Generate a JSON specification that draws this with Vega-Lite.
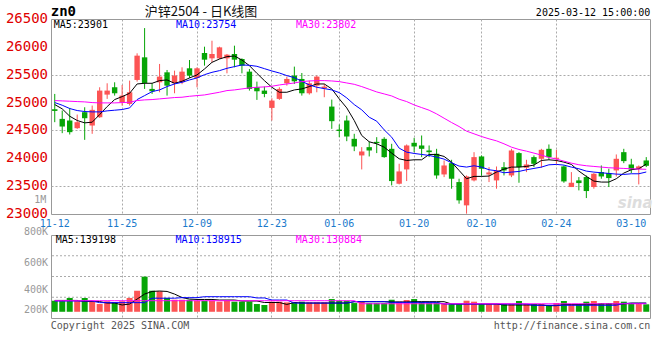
{
  "$schema": "https://vega.github.io/schema/vega-lite/v6.json",
  "padding": {"left": 5, "top": 4, "right": 5, "bottom": 5},
  "background": "white",
  "bounds": "flush",
  "spacing": 21,
  "config": {
    "view": {"stroke": "#999999", "strokeWidth": 1},
    "font": "DejaVu Sans Mono",
    "axis": {"ticks": false, "domain": false, "gridColor": "#aaaaaa", "gridDash": [2, 2], "gridWidth": 1, "labelFont": "DejaVu Sans Mono", "labelOverlap": false}
  },
  "datasets": {
    "k": [
      {"d":"2024-11-12","o":24880,"h":25155,"l":24648,"c":24850,"m5":24964,"m10":25000,"m30":25036,"v":325000,"vm5":327000,"vm10":323000,"vm30":325000},
      {"d":"2024-11-13","o":24707,"h":24857,"l":24451,"c":24570,"m5":24887,"m10":24952,"m30":25030,"v":325000,"vm5":327000,"vm10":323000,"vm30":325000},
      {"d":"2024-11-14","o":24678,"h":24904,"l":24427,"c":24469,"m5":24755,"m10":24893,"m30":25024,"v":345000,"vm5":327000,"vm10":323000,"vm30":325000},
      {"d":"2024-11-15","o":24540,"h":24785,"l":24528,"c":24648,"m5":24678,"m10":24857,"m30":25018,"v":325000,"vm5":327000,"vm10":323000,"vm30":325000},
      {"d":"2024-11-18","o":24827,"h":24916,"l":24331,"c":24719,"m5":24636,"m10":24839,"m30":25012,"v":345000,"vm5":319000,"vm10":323000,"vm30":325000},
      {"d":"2024-11-19","o":24588,"h":24946,"l":24439,"c":24869,"m5":24648,"m10":24833,"m30":25000,"v":325000,"vm5":319000,"vm10":323000,"vm30":325000},
      {"d":"2024-11-20","o":24737,"h":25275,"l":24725,"c":25215,"m5":24785,"m10":24833,"m30":24994,"v":301000,"vm5":319000,"vm10":311000,"vm30":325000},
      {"d":"2024-11-21","o":25143,"h":25346,"l":25066,"c":25215,"m5":24928,"m10":24851,"m30":24994,"v":321000,"vm5":308000,"vm10":311000,"vm30":325000},
      {"d":"2024-11-22","o":25275,"h":25364,"l":25125,"c":25167,"m5":25054,"m10":24863,"m30":24994,"v":313000,"vm5":308000,"vm10":311000,"vm30":325000},
      {"d":"2024-11-25","o":25006,"h":25316,"l":24946,"c":25125,"m5":25107,"m10":24875,"m30":25000,"v":321000,"vm5":294000,"vm10":311000,"vm30":325000},
      {"d":"2024-11-26","o":24976,"h":25394,"l":24946,"c":25185,"m5":25167,"m10":24904,"m30":25006,"v":345000,"vm5":301000,"vm10":311000,"vm30":325000},
      {"d":"2024-11-27","o":25406,"h":25884,"l":25376,"c":25842,"m5":25334,"m10":25054,"m30":25036,"v":397000,"vm5":337000,"vm10":311000,"vm30":325000},
      {"d":"2024-11-28","o":25812,"h":26337,"l":25245,"c":25352,"m5":25346,"m10":25125,"m30":25048,"v":499000,"vm5":373000,"vm10":311000,"vm30":325000},
      {"d":"2024-11-29","o":25245,"h":25346,"l":25155,"c":25203,"m5":25346,"m10":25197,"m30":25054,"v":397000,"vm5":392000,"vm10":343000,"vm30":325000},
      {"d":"2024-12-02","o":25364,"h":25693,"l":25185,"c":25466,"m5":25394,"m10":25227,"m30":25066,"v":393000,"vm5":395000,"vm10":343000,"vm30":325000},
      {"d":"2024-12-03","o":25543,"h":25585,"l":25125,"c":25304,"m5":25406,"m10":25287,"m30":25078,"v":345000,"vm5":392000,"vm10":343000,"vm30":325000},
      {"d":"2024-12-04","o":25346,"h":25573,"l":25167,"c":25484,"m5":25346,"m10":25334,"m30":25090,"v":332000,"vm5":373000,"vm10":343000,"vm30":325000},
      {"d":"2024-12-05","o":25364,"h":25633,"l":25330,"c":25555,"m5":25382,"m10":25364,"m30":25096,"v":332000,"vm5":348000,"vm10":347000,"vm30":325000},
      {"d":"2024-12-06","o":25615,"h":25764,"l":25442,"c":25484,"m5":25442,"m10":25406,"m30":25113,"v":332000,"vm5":337000,"vm10":347000,"vm30":325000},
      {"d":"2024-12-09","o":25442,"h":25633,"l":25275,"c":25615,"m5":25496,"m10":25442,"m30":25125,"v":325000,"vm5":334000,"vm10":347000,"vm30":325000},
      {"d":"2024-12-10","o":25890,"h":26003,"l":25663,"c":25770,"m5":25603,"m10":25501,"m30":25137,"v":325000,"vm5":334000,"vm10":354000,"vm30":325000},
      {"d":"2024-12-11","o":25794,"h":26110,"l":25722,"c":25872,"m5":25722,"m10":25543,"m30":25161,"v":325000,"vm5":334000,"vm10":354000,"vm30":325000},
      {"d":"2024-12-12","o":25794,"h":26003,"l":25782,"c":25991,"m5":25782,"m10":25573,"m30":25185,"v":318000,"vm5":330000,"vm10":354000,"vm30":325000},
      {"d":"2024-12-13","o":25794,"h":25872,"l":25525,"c":25860,"m5":25824,"m10":25615,"m30":25215,"v":325000,"vm5":330000,"vm10":354000,"vm30":325000},
      {"d":"2024-12-16","o":25872,"h":26021,"l":25633,"c":25770,"m5":25836,"m10":25645,"m30":25227,"v":318000,"vm5":330000,"vm10":354000,"vm30":325000},
      {"d":"2024-12-17","o":25782,"h":25794,"l":25525,"c":25663,"m5":25764,"m10":25675,"m30":25245,"v":318000,"vm5":323000,"vm10":354000,"vm30":325000},
      {"d":"2024-12-18","o":25555,"h":25603,"l":25215,"c":25245,"m5":25663,"m10":25669,"m30":25263,"v":318000,"vm5":323000,"vm10":354000,"vm30":325000},
      {"d":"2024-12-19","o":25275,"h":25376,"l":25048,"c":25203,"m5":25525,"m10":25651,"m30":25275,"v":301000,"vm5":323000,"vm10":345000,"vm30":325000},
      {"d":"2024-12-20","o":25215,"h":25287,"l":25096,"c":25155,"m5":25394,"m10":25609,"m30":25281,"v":294000,"vm5":312000,"vm10":345000,"vm30":325000},
      {"d":"2024-12-23","o":24904,"h":25078,"l":24678,"c":25036,"m5":25275,"m10":25567,"m30":25293,"v":318000,"vm5":312000,"vm10":330000,"vm30":325000},
      {"d":"2024-12-24","o":25066,"h":25275,"l":25048,"c":25245,"m5":25185,"m10":25531,"m30":25316,"v":318000,"vm5":312000,"vm10":330000,"vm30":325000},
      {"d":"2024-12-25","o":25346,"h":25466,"l":25304,"c":25424,"m5":25185,"m10":25484,"m30":25334,"v":313000,"vm5":298000,"vm10":330000,"vm30":325000},
      {"d":"2024-12-26","o":25484,"h":25645,"l":25334,"c":25382,"m5":25227,"m10":25448,"m30":25352,"v":313000,"vm5":312000,"vm10":308000,"vm30":325000},
      {"d":"2024-12-27","o":25424,"h":25531,"l":25125,"c":25167,"m5":25245,"m10":25382,"m30":25376,"v":318000,"vm5":308000,"vm10":308000,"vm30":325000},
      {"d":"2024-12-30","o":25167,"h":25394,"l":25143,"c":25346,"m5":25287,"m10":25316,"m30":25388,"v":313000,"vm5":308000,"vm10":308000,"vm30":325000},
      {"d":"2024-12-31","o":25304,"h":25484,"l":25185,"c":25466,"m5":25334,"m10":25275,"m30":25394,"v":313000,"vm5":308000,"vm10":308000,"vm30":325000},
      {"d":"2025-01-02","o":25257,"h":25334,"l":25096,"c":25287,"m5":25334,"m10":25251,"m30":25394,"v":313000,"vm5":308000,"vm10":308000,"vm30":325000},
      {"d":"2025-01-03","o":24928,"h":25054,"l":24528,"c":24666,"m5":25245,"m10":25227,"m30":25388,"v":337000,"vm5":308000,"vm10":308000,"vm30":325000},
      {"d":"2025-01-06","o":24515,"h":24606,"l":24379,"c":24490,"m5":25066,"m10":25179,"m30":25376,"v":325000,"vm5":308000,"vm10":308000,"vm30":325000},
      {"d":"2025-01-07","o":24678,"h":24767,"l":24307,"c":24391,"m5":24904,"m10":25084,"m30":25352,"v":325000,"vm5":308000,"vm10":308000,"vm30":325000},
      {"d":"2025-01-08","o":24349,"h":24439,"l":24128,"c":24212,"m5":24678,"m10":24964,"m30":25328,"v":308000,"vm5":318000,"vm10":318000,"vm30":325000},
      {"d":"2025-01-09","o":24051,"h":24200,"l":23800,"c":24122,"m5":24409,"m10":24869,"m30":25287,"v":318000,"vm5":318000,"vm10":318000,"vm30":303000},
      {"d":"2025-01-10","o":24200,"h":24301,"l":24033,"c":24140,"m5":24296,"m10":24737,"m30":25239,"v":308000,"vm5":318000,"vm10":318000,"vm30":303000},
      {"d":"2025-01-13","o":24295,"h":24379,"l":24093,"c":24272,"m5":24260,"m10":24666,"m30":25191,"v":308000,"vm5":318000,"vm10":318000,"vm30":303000},
      {"d":"2025-01-14","o":24349,"h":24379,"l":24009,"c":24021,"m5":24200,"m10":24510,"m30":25155,"v":308000,"vm5":318000,"vm10":318000,"vm30":303000},
      {"d":"2025-01-15","o":24170,"h":24260,"l":23513,"c":23591,"m5":24093,"m10":24379,"m30":25119,"v":332000,"vm5":316000,"vm10":313000,"vm30":303000},
      {"d":"2025-01-16","o":23543,"h":23902,"l":23531,"c":23764,"m5":23991,"m10":24182,"m30":25060,"v":318000,"vm5":316000,"vm10":313000,"vm30":303000},
      {"d":"2025-01-17","o":23800,"h":24248,"l":23591,"c":24230,"m5":23961,"m10":24110,"m30":25018,"v":330000,"vm5":316000,"vm10":313000,"vm30":303000},
      {"d":"2025-01-20","o":24278,"h":24367,"l":24110,"c":24212,"m5":23973,"m10":24087,"m30":24958,"v":337000,"vm5":318000,"vm10":313000,"vm30":303000},
      {"d":"2025-01-21","o":24230,"h":24409,"l":24021,"c":24170,"m5":23973,"m10":24069,"m30":24910,"v":318000,"vm5":318000,"vm10":313000,"vm30":303000},
      {"d":"2025-01-22","o":24140,"h":24230,"l":24021,"c":24110,"m5":24069,"m10":24051,"m30":24863,"v":313000,"vm5":318000,"vm10":313000,"vm30":303000},
      {"d":"2025-01-23","o":24081,"h":24170,"l":23633,"c":23692,"m5":24069,"m10":24021,"m30":24797,"v":313000,"vm5":318000,"vm10":313000,"vm30":303000},
      {"d":"2025-01-24","o":23710,"h":23961,"l":23662,"c":23871,"m5":24033,"m10":23985,"m30":24719,"v":308000,"vm5":318000,"vm10":301000,"vm30":303000},
      {"d":"2025-01-27","o":23913,"h":23973,"l":23454,"c":23633,"m5":23931,"m10":23919,"m30":24642,"v":301000,"vm5":301000,"vm10":301000,"vm30":303000},
      {"d":"2025-02-05","o":23573,"h":23633,"l":23185,"c":23245,"m5":23782,"m10":23860,"m30":24570,"v":301000,"vm5":301000,"vm10":301000,"vm30":303000},
      {"d":"2025-02-06","o":23155,"h":23692,"l":23006,"c":23675,"m5":23633,"m10":23842,"m30":24487,"v":325000,"vm5":301000,"vm10":301000,"vm30":303000},
      {"d":"2025-02-07","o":23603,"h":24110,"l":23585,"c":24021,"m5":23675,"m10":23866,"m30":24439,"v":318000,"vm5":301000,"vm10":301000,"vm30":303000},
      {"d":"2025-02-10","o":24033,"h":24051,"l":23686,"c":23812,"m5":23675,"m10":23842,"m30":24391,"v":301000,"vm5":301000,"vm10":301000,"vm30":303000},
      {"d":"2025-02-11","o":23710,"h":23842,"l":23573,"c":23746,"m5":23681,"m10":23794,"m30":24349,"v":301000,"vm5":301000,"vm10":301000,"vm30":303000},
      {"d":"2025-02-12","o":23603,"h":23853,"l":23454,"c":23782,"m5":23752,"m10":23776,"m30":24313,"v":301000,"vm5":301000,"vm10":301000,"vm30":303000},
      {"d":"2025-02-13","o":23841,"h":23931,"l":23692,"c":23782,"m5":23806,"m10":23740,"m30":24260,"v":301000,"vm5":294000,"vm10":301000,"vm30":303000},
      {"d":"2025-02-14","o":23692,"h":24170,"l":23662,"c":24140,"m5":23842,"m10":23752,"m30":24200,"v":301000,"vm5":294000,"vm10":301000,"vm30":303000},
      {"d":"2025-02-17","o":24093,"h":24110,"l":23561,"c":23842,"m5":23842,"m10":23764,"m30":24158,"v":323000,"vm5":294000,"vm10":301000,"vm30":303000},
      {"d":"2025-02-18","o":23830,"h":23973,"l":23752,"c":23889,"m5":23854,"m10":23794,"m30":24128,"v":301000,"vm5":294000,"vm10":301000,"vm30":303000},
      {"d":"2025-02-19","o":24021,"h":24051,"l":23842,"c":23901,"m5":23878,"m10":23818,"m30":24093,"v":301000,"vm5":294000,"vm10":292000,"vm30":303000},
      {"d":"2025-02-20","o":23991,"h":24170,"l":23830,"c":24152,"m5":23961,"m10":23842,"m30":24057,"v":301000,"vm5":294000,"vm10":292000,"vm30":303000},
      {"d":"2025-02-21","o":24170,"h":24248,"l":23973,"c":24021,"m5":23973,"m10":23883,"m30":24015,"v":294000,"vm5":289000,"vm10":292000,"vm30":303000},
      {"d":"2025-02-24","o":23990,"h":24152,"l":23901,"c":24010,"m5":23961,"m10":23890,"m30":23985,"v":308000,"vm5":289000,"vm10":292000,"vm30":303000},
      {"d":"2025-02-25","o":23854,"h":23871,"l":23561,"c":23585,"m5":23931,"m10":23878,"m30":23949,"v":323000,"vm5":298000,"vm10":292000,"vm30":303000},
      {"d":"2025-02-26","o":23484,"h":23752,"l":23484,"c":23561,"m5":23890,"m10":23842,"m30":23913,"v":301000,"vm5":298000,"vm10":292000,"vm30":303000},
      {"d":"2025-02-27","o":23603,"h":23663,"l":23424,"c":23555,"m5":23770,"m10":23812,"m30":23884,"v":301000,"vm5":298000,"vm10":292000,"vm30":303000},
      {"d":"2025-02-28","o":23663,"h":23692,"l":23286,"c":23412,"m5":23675,"m10":23770,"m30":23866,"v":318000,"vm5":298000,"vm10":292000,"vm30":303000},
      {"d":"2025-03-03","o":23484,"h":23734,"l":23454,"c":23722,"m5":23591,"m10":23752,"m30":23854,"v":323000,"vm5":298000,"vm10":292000,"vm30":303000},
      {"d":"2025-03-04","o":23752,"h":23871,"l":23633,"c":23674,"m5":23573,"m10":23740,"m30":23842,"v":308000,"vm5":301000,"vm10":292000,"vm30":303000},
      {"d":"2025-03-05","o":23734,"h":23812,"l":23484,"c":23645,"m5":23573,"m10":23728,"m30":23830,"v":308000,"vm5":301000,"vm10":292000,"vm30":303000},
      {"d":"2025-03-06","o":23782,"h":24069,"l":23674,"c":23991,"m5":23633,"m10":23716,"m30":23824,"v":323000,"vm5":301000,"vm10":292000,"vm30":303000},
      {"d":"2025-03-07","o":24110,"h":24170,"l":23913,"c":23949,"m5":23734,"m10":23710,"m30":23818,"v":318000,"vm5":301000,"vm10":306000,"vm30":303000},
      {"d":"2025-03-10","o":23889,"h":23991,"l":23734,"c":23794,"m5":23794,"m10":23722,"m30":23812,"v":308000,"vm5":308000,"vm10":306000,"vm30":303000},
      {"d":"2025-03-11","o":23812,"h":23871,"l":23531,"c":23854,"m5":23812,"m10":23722,"m30":23806,"v":308000,"vm5":308000,"vm10":306000,"vm30":303000},
      {"d":"2025-03-12","o":23961,"h":24021,"l":23842,"c":23865,"m5":23895,"m10":23754,"m30":23802,"v":299000,"vm5":308000,"vm10":306000,"vm30":303000}
    ],
    "ptick": [{"p": 23000}, {"p": 23500}, {"p": 24000}, {"p": 24500}, {"p": 25000}, {"p": 25500}, {"p": 26000}, {"p": 26500}],
    "vgrid": [{"g": 350000}, {"g": 500000}, {"g": 650000}]
  },
  "vconcat": [
    {
      "width": 599,
      "height": 195,
      "data": {"name": "k"},
      "encoding": {
        "x": {
          "field": "d", "type": "ordinal", "title": null,
          "scale": {"type": "band", "paddingInner": 0, "paddingOuter": 0},
          "axis": {
            "values": ["2024-11-12","2024-11-25","2024-12-09","2024-12-23","2025-01-06","2025-01-20","2025-02-10","2025-02-24","2025-03-10"],
            "labelExpr": "substring(datum.value, 5)",
            "labelColor": "#1a7acc", "labelFontSize": 10, "labelPadding": 4, "labelAngle": 0, "labelOverlap": false,
            "grid": true,
            "gridOpacity": {"condition": {"test": "datum.value == '2025-03-10' || datum.value == '2024-11-12'", "value": 0}, "value": 1}
          }
        }
      },
      "layer": [
        {
          "mark": {"type": "rule", "strokeWidth": 1},
          "encoding": {
            "y": {
              "field": "l", "type": "quantitative", "title": null,
              "scale": {"domain": [23000, 26500], "zero": false, "nice": false},
              "axis": {
                "values": [23500, 24000, 24500, 25000, 25500, 26000],
                "labels": false,
                "grid": true
              }
            },
            "y2": {"field": "h"},
            "color": {"condition": {"test": "datum.c >= datum.o", "value": "#fc5454"}, "value": "#06a506"}
          }
        },
        {
          "mark": {"type": "bar", "width": {"band": 0.72}},
          "encoding": {
            "y": {"field": "o", "type": "quantitative"},
            "y2": {"field": "c"},
            "color": {"condition": {"test": "datum.c >= datum.o", "value": "#fc5454"}, "value": "#06a506"}
          }
        },
        {"mark": {"type": "line", "color": "#000000", "strokeWidth": 1}, "encoding": {"y": {"field": "m5", "type": "quantitative"}}},
        {"mark": {"type": "line", "color": "#0000ff", "strokeWidth": 1}, "encoding": {"y": {"field": "m10", "type": "quantitative"}}},
        {"mark": {"type": "line", "color": "#ff00ff", "strokeWidth": 1}, "encoding": {"y": {"field": "m30", "type": "quantitative"}}},
        {
          "data": {"name": "ptick"},
          "mark": {"type": "text", "font": "DejaVu Sans Mono", "fontSize": 14, "align": "right", "baseline": "middle", "dx": -6.7, "color": "#e00000"},
          "encoding": {"x": {"datum": "2024-11-12", "type": "ordinal"}, "y": {"field": "p", "type": "quantitative"}, "text": {"field": "p", "type": "quantitative", "format": "d"}}
        },
        {
          "data": {"values": [{}]},
          "mark": {"type": "text", "text": "1M", "font": "DejaVu Sans Mono", "fontSize": 10, "align": "right", "baseline": "middle", "dx": -8.5, "color": "#999999"},
          "encoding": {"x": {"datum": "2024-11-12", "type": "ordinal"}, "y": {"datum": 23250, "type": "quantitative"}}
        },
        {
          "data": {"values": [{}]},
          "mark": {"type": "text", "text": "zn0", "font": "DejaVu Sans Mono", "fontWeight": "bold", "fontSize": 14, "align": "left", "baseline": "middle", "dx": -4, "dy": -7, "color": "#000000"},
          "encoding": {"x": {"datum": "2024-11-12", "type": "ordinal"}, "y": {"datum": 26500, "type": "quantitative"}}
        },
        {
          "data": {"values": [{}]},
          "mark": {"type": "text", "text": "沪锌2504 - 日K线图", "font": "Noto Sans CJK SC", "fontSize": 13, "align": "center", "baseline": "middle", "dx": 4, "dy": -7, "color": "#111111"},
          "encoding": {"x": {"datum": "2024-12-09", "type": "ordinal"}, "y": {"datum": 26500, "type": "quantitative"}}
        },
        {
          "data": {"values": [{}]},
          "mark": {"type": "text", "text": "2025-03-12 15:00:00", "font": "DejaVu Sans Mono", "fontSize": 10, "align": "right", "baseline": "middle", "dx": 4, "dy": -6, "color": "#000000"},
          "encoding": {"x": {"datum": "2025-03-12", "type": "ordinal"}, "y": {"datum": 26500, "type": "quantitative"}}
        },
        {
          "data": {"values": [{}]},
          "mark": {"type": "text", "text": "MA5:23901", "font": "DejaVu Sans Mono", "fontSize": 10, "align": "left", "baseline": "middle", "dx": -1, "dy": 6, "color": "#000000"},
          "encoding": {"x": {"datum": "2024-11-12", "type": "ordinal"}, "y": {"datum": 26500, "type": "quantitative"}}
        },
        {
          "data": {"values": [{}]},
          "mark": {"type": "text", "text": "MA10:23754", "font": "DejaVu Sans Mono", "fontSize": 10, "align": "left", "baseline": "middle", "dx": 1.5, "dy": 6, "color": "#0000ff"},
          "encoding": {"x": {"datum": "2024-12-04", "type": "ordinal"}, "y": {"datum": 26500, "type": "quantitative"}}
        },
        {
          "data": {"values": [{}]},
          "mark": {"type": "text", "text": "MA30:23802", "font": "DejaVu Sans Mono", "fontSize": 10, "align": "left", "baseline": "middle", "dx": 1.7, "dy": 6, "color": "#ff00ff"},
          "encoding": {"x": {"datum": "2024-12-26", "type": "ordinal"}, "y": {"datum": 26500, "type": "quantitative"}}
        },
        {
          "data": {"values": [{}]},
          "mark": {"type": "text", "text": "sina", "font": "DejaVu Sans", "fontWeight": "bold", "fontStyle": "italic", "fontSize": 15, "align": "left", "baseline": "middle", "dx": -6, "color": "#dddddd"},
          "encoding": {"x": {"datum": "2025-03-07", "type": "ordinal"}, "y": {"datum": 23200, "type": "quantitative"}}
        }
      ]
    },
    {
      "width": 599,
      "height": 83,
      "data": {"name": "k"},
      "encoding": {
        "x": {
          "field": "d", "type": "ordinal", "title": null,
          "scale": {"type": "band", "paddingInner": 0, "paddingOuter": 0},
          "axis": {
            "values": ["2024-11-12","2024-11-25","2024-12-09","2024-12-23","2025-01-06","2025-01-20","2025-02-10","2025-02-24","2025-03-10"],
            "labels": false,
            "grid": true,
            "gridOpacity": {"condition": {"test": "datum.value == '2025-03-10' || datum.value == '2024-11-12'", "value": 0}, "value": 1}
          }
        }
      },
      "layer": [
        {
          "data": {"name": "vgrid"},
          "mark": {"type": "rule", "color": "#aaaaaa", "strokeDash": [2, 2], "strokeWidth": 1},
          "encoding": {"x": null, "y": {"field": "g", "type": "quantitative"}}
        },
        {
          "mark": {"type": "bar", "width": {"band": 0.8}},
          "encoding": {
            "y": {
              "field": "v", "type": "quantitative", "title": null,
              "scale": {"domain": [200000, 800000], "zero": false, "nice": false},
              "axis": {"labels": false, "grid": false}
            },
            "y2": {"datum": 245000},
            "color": {"condition": {"test": "datum.c >= datum.o", "value": "#fc5454"}, "value": "#06a506"}
          }
        },
        {"mark": {"type": "line", "color": "#000000", "strokeWidth": 1}, "encoding": {"y": {"field": "vm5", "type": "quantitative"}}},
        {"mark": {"type": "line", "color": "#0000ff", "strokeWidth": 1}, "encoding": {"y": {"field": "vm10", "type": "quantitative"}}},
        {"mark": {"type": "line", "color": "#ff00ff", "strokeWidth": 1}, "encoding": {"y": {"field": "vm30", "type": "quantitative"}}},
        {
          "data": {"values": [{}]},
          "mark": {"type": "text", "text": "800K", "font": "DejaVu Sans Mono", "fontSize": 10, "align": "right", "baseline": "middle", "dx": -6.7, "dy": -3, "color": "#999999"},
          "encoding": {"x": {"datum": "2024-11-12", "type": "ordinal"}, "y": {"datum": 800000, "type": "quantitative"}}
        },
        {
          "data": {"values": [{}]},
          "mark": {"type": "text", "text": "600K", "font": "DejaVu Sans Mono", "fontSize": 10, "align": "right", "baseline": "middle", "dx": -6.7, "color": "#999999"},
          "encoding": {"x": {"datum": "2024-11-12", "type": "ordinal"}, "y": {"datum": 600000, "type": "quantitative"}}
        },
        {
          "data": {"values": [{}]},
          "mark": {"type": "text", "text": "400K", "font": "DejaVu Sans Mono", "fontSize": 10, "align": "right", "baseline": "middle", "dx": -6.7, "color": "#999999"},
          "encoding": {"x": {"datum": "2024-11-12", "type": "ordinal"}, "y": {"datum": 400000, "type": "quantitative"}}
        },
        {
          "data": {"values": [{}]},
          "mark": {"type": "text", "text": "200K", "font": "DejaVu Sans Mono", "fontSize": 10, "align": "right", "baseline": "middle", "dx": -6.7, "dy": -8, "color": "#999999"},
          "encoding": {"x": {"datum": "2024-11-12", "type": "ordinal"}, "y": {"datum": 200000, "type": "quantitative"}}
        },
        {
          "data": {"values": [{}]},
          "mark": {"type": "text", "text": "MA5:139198", "font": "DejaVu Sans Mono", "fontSize": 10, "align": "left", "baseline": "middle", "dx": 1, "dy": 4.5, "color": "#000000"},
          "encoding": {"x": {"datum": "2024-11-12", "type": "ordinal"}, "y": {"datum": 800000, "type": "quantitative"}}
        },
        {
          "data": {"values": [{}]},
          "mark": {"type": "text", "text": "MA10:138915", "font": "DejaVu Sans Mono", "fontSize": 10, "align": "left", "baseline": "middle", "dx": 1, "dy": 4.5, "color": "#0000ff"},
          "encoding": {"x": {"datum": "2024-12-04", "type": "ordinal"}, "y": {"datum": 800000, "type": "quantitative"}}
        },
        {
          "data": {"values": [{}]},
          "mark": {"type": "text", "text": "MA30:130884", "font": "DejaVu Sans Mono", "fontSize": 10, "align": "left", "baseline": "middle", "dx": 1.5, "dy": 4.5, "color": "#ff00ff"},
          "encoding": {"x": {"datum": "2024-12-26", "type": "ordinal"}, "y": {"datum": 800000, "type": "quantitative"}}
        },
        {
          "data": {"values": [{}]},
          "mark": {"type": "text", "text": "Copyright 2025 SINA.COM", "font": "DejaVu Sans Mono", "fontSize": 10, "align": "left", "baseline": "middle", "dx": -4, "dy": 7.5, "color": "#555555"},
          "encoding": {"x": {"datum": "2024-11-12", "type": "ordinal"}, "y": {"datum": 200000, "type": "quantitative"}}
        },
        {
          "data": {"values": [{}]},
          "mark": {"type": "text", "text": "http://finance.sina.com.cn", "font": "DejaVu Sans Mono", "fontSize": 10, "align": "right", "baseline": "middle", "dx": 4, "dy": 7.5, "color": "#555555"},
          "encoding": {"x": {"datum": "2025-03-12", "type": "ordinal"}, "y": {"datum": 200000, "type": "quantitative"}}
        }
      ]
    }
  ]
}
